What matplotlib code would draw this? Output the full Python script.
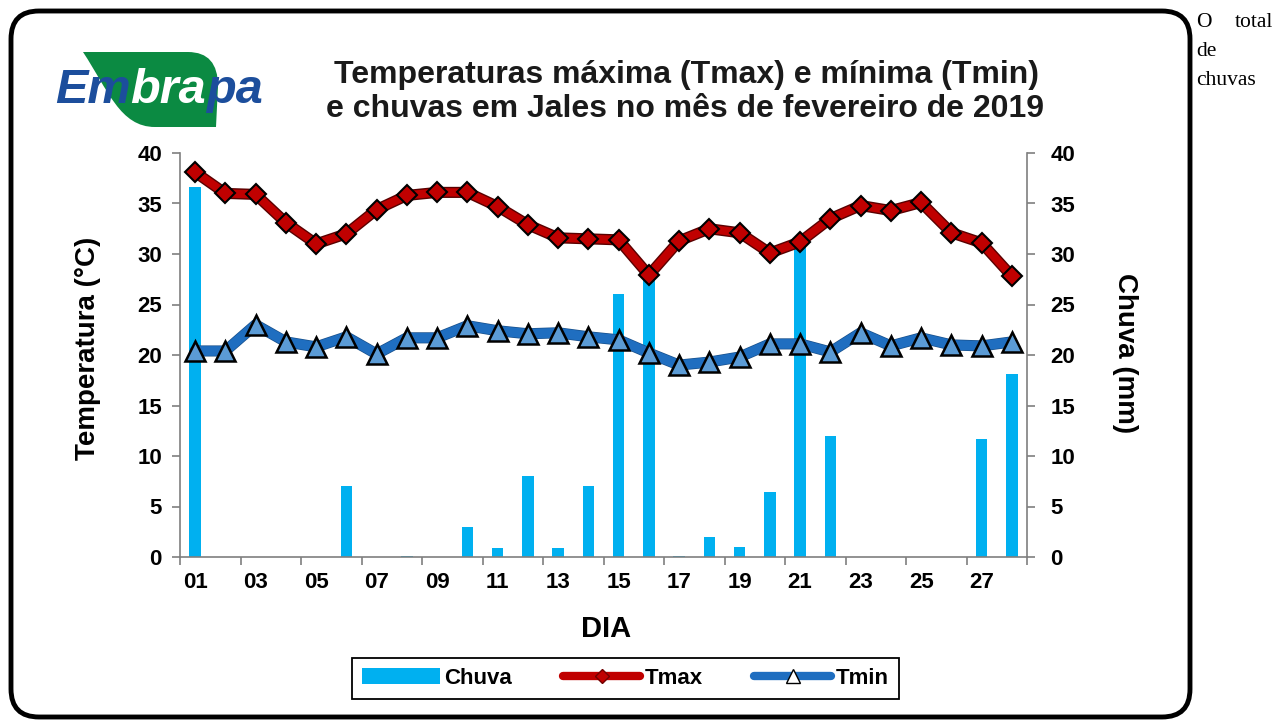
import matplotlib
matplotlib.use('Agg')
import numpy as np
import matplotlib.pyplot as plt
from matplotlib.patches import FancyBboxPatch, PathPatch, Patch
from matplotlib.path import Path
from matplotlib.lines import Line2D
from matplotlib.transforms import IdentityTransform
import matplotlib.patheffects as pe

# ---------------- data ----------------
days = list(range(1, 29))
tmax = [38.1, 36.0, 35.9, 33.1, 31.0, 32.0, 34.4, 35.8, 36.1, 36.1,
        34.7, 32.9, 31.6, 31.5, 31.4, 27.9, 31.3, 32.5, 32.1, 30.1,
        31.2, 33.5, 34.8, 34.3, 35.1, 32.1, 31.1, 27.8]
tmin = [20.4, 20.4, 23.0, 21.3, 20.8, 21.8, 20.1, 21.7, 21.7, 22.9,
        22.4, 22.1, 22.2, 21.8, 21.5, 20.2, 19.0, 19.3, 19.8, 21.1,
        21.1, 20.3, 22.2, 20.9, 21.7, 21.0, 20.9, 21.3]
chuva = [36.6, 0, 0, 0, 0, 7.0, 0, 0.1, 0, 3.0,
         0.9, 8.0, 0.9, 7.0, 26.0, 28.5, 0.1, 2.0, 1.0, 6.4,
         31.0, 12.0, 0, 0, 0, 0, 11.7, 18.1]
xtick_labels = ['01', '03', '05', '07', '09', '11', '13', '15', '17', '19',
                '21', '23', '25', '27']
xtick_pos = [1, 3, 5, 7, 9, 11, 13, 15, 17, 19, 21, 23, 25, 27]
yticks = [0, 5, 10, 15, 20, 25, 30, 35, 40]
series_names = ['Chuva', 'Tmax', 'Tmin']

plt.rcParams['font.family'] = ['Liberation Sans', 'DejaVu Sans']

W, H = 1274, 720
fig = plt.figure(figsize=(W / 100, H / 100), dpi=100)

# ---------------- axes ----------------
ax = fig.add_axes([180 / W, 1 - 557 / H, (1027 - 180) / W, (557 - 153) / H])
ax2 = ax.twinx()
ax.set_zorder(ax2.get_zorder() + 1)
ax.patch.set_visible(False)

c_bar = '#00B0F0'
c_max = '#C00000'
c_min = '#1F6EC0'

ax2.bar(days, chuva, width=0.38, color=c_bar, zorder=2)

ax.plot(days, tmax, color=c_max, lw=6, solid_joinstyle='round', solid_capstyle='round',
        path_effects=[pe.Stroke(linewidth=8, foreground='#5A0000'), pe.Normal()], zorder=3)
ax.plot(days, tmax, ls='none', marker='D', ms=10, mfc=c_max, mec='black', mew=1.5, zorder=4)
ax.plot(days, tmin, color=c_min, lw=7, solid_joinstyle='round', solid_capstyle='round',
        path_effects=[pe.Stroke(linewidth=8, foreground='#174F8A'), pe.Normal()], zorder=3)
ax.plot(days, tmin, ls='none', marker='^', ms=14, mfc='#5B9BD5', mec='black', mew=1.8, zorder=4)

for a in (ax, ax2):
    a.set_ylim(0, 40)
    a.set_xlim(0.5, 28.5)
    for s in a.spines.values():
        s.set_color('#7F7F7F')
        s.set_linewidth(1.2)
ax.spines['top'].set_visible(False)
ax.spines['right'].set_visible(False)
ax2.spines['top'].set_visible(False)
ax2.spines['left'].set_visible(False)
ax2.spines['bottom'].set_visible(False)

ax.set_yticks(yticks)
ax2.set_yticks(yticks)
ax.tick_params(axis='y', direction='out', length=6, width=1.2, color='#7F7F7F',
               labelsize=16, pad=7)
ax2.tick_params(axis='y', direction='out', length=6, width=1.2, color='#7F7F7F',
                labelsize=16, pad=11)
for lab in ax.get_yticklabels() + ax2.get_yticklabels():
    lab.set_fontweight('bold')

ax.set_xticks(np.arange(0.5, 29, 2))
ax.set_xticklabels([])
ax.tick_params(axis='x', which='major', direction='out', length=6, width=1.2, color='#7F7F7F')
ax.set_xticks(xtick_pos, minor=True)
ax.set_xticklabels(xtick_labels, minor=True, fontsize=16, fontweight='bold')
ax.tick_params(axis='x', which='minor', length=0, pad=11)

# ---------------- texts ----------------
fig.text(686 / W, 1 - 75 / H, 'Temperaturas máxima (Tmax) e mínima (Tmin)',
         ha='center', va='center', fontsize=23, fontweight='bold', color='#1a1a1a')
fig.text(685 / W, 1 - 109 / H, 'e chuvas em Jales no mês de fevereiro de 2019',
         ha='center', va='center', fontsize=23, fontweight='bold', color='#1a1a1a')
fig.text(88 / W, 1 - 348 / H, 'Temperatura (°C)', rotation=90, ha='center', va='center',
         fontsize=20, fontweight='bold')
fig.text(1125 / W, 1 - 353 / H, 'Chuva (mm)', rotation=-90, ha='center', va='center',
         fontsize=20, fontweight='bold')
fig.text(606 / W, 1 - 629 / H, 'DIA', ha='center', va='center', fontsize=21, fontweight='bold')

# ---------------- legend ----------------
handles = [Patch(facecolor=c_bar, edgecolor='none'),
           Line2D([], [], color=c_max, lw=6, marker='D', ms=7, mfc=c_max, mec='#700000',
                  solid_capstyle='round'),
           Line2D([], [], color=c_min, lw=6, marker='^', ms=10, mfc='white', mec='black',
                  mew=1, solid_capstyle='round')]
leg = fig.legend(handles, series_names, loc='center',
                 bbox_to_anchor=(341 / W, 1 - 702 / H, 569 / W, 47 / H), mode='expand',
                 ncol=3, frameon=True, fancybox=False, edgecolor='black', framealpha=1,
                 prop=dict(weight='bold', size=16), handlelength=3.5, handletextpad=0.2,
                 borderpad=0.45)
leg.get_frame().set_linewidth(1.3)

# ---------------- border ----------------
idt = IdentityTransform()
border = FancyBboxPatch((11, 3), 1190 - 11, 709 - 3,
                        boxstyle='round,pad=0,rounding_size=28',
                        transform=idt, fill=False, lw=3.5, ec='black')
fig.add_artist(border)

# ---------------- logo ----------------
def P(x, y):
    return (x, H - y)

verts = [P(83, 52), P(188, 52), P(218, 52), P(218, 86), P(216, 127),
         P(155, 127), P(120, 127), P(108, 90), P(83, 52)]
codes = [Path.MOVETO, Path.LINETO, Path.CURVE3, Path.CURVE3, Path.LINETO,
         Path.LINETO, Path.CURVE4, Path.CURVE4, Path.CURVE4]
leaf = PathPatch(Path(verts, codes), transform=idt, facecolor='#0B8A42', edgecolor='none')
fig.add_artist(leaf)

logo_kw = dict(fontsize=35, fontweight='bold', fontstyle='italic')
t1 = fig.text(55 / W, 1 - 113 / H, 'Em', color='#1C4E9C', va='bottom', ha='left', **logo_kw)
t2 = ax.annotate('bra', xy=(1, 0), xycoords=t1, va='bottom', ha='left', color='white',
                 annotation_clip=False, **logo_kw)
t3 = ax.annotate('pa', xy=(1, 0), xycoords=t2, va='bottom', ha='left', color='#1C4E9C',
                 annotation_clip=False, **logo_kw)

# ---------------- right side text ----------------
serif_kw = dict(family='Liberation Serif', fontsize=15.5, va='baseline')
fig.text(1196 / W, 1 - 27 / H, 'O', **serif_kw)
fig.text(1273 / W, 1 - 27 / H, 'total', ha='right', **serif_kw)
fig.text(1196 / W, 1 - 56 / H, 'de', **serif_kw)
fig.text(1196 / W, 1 - 85 / H, 'chuvas', **serif_kw)

fig.savefig('out.png', dpi=100)
